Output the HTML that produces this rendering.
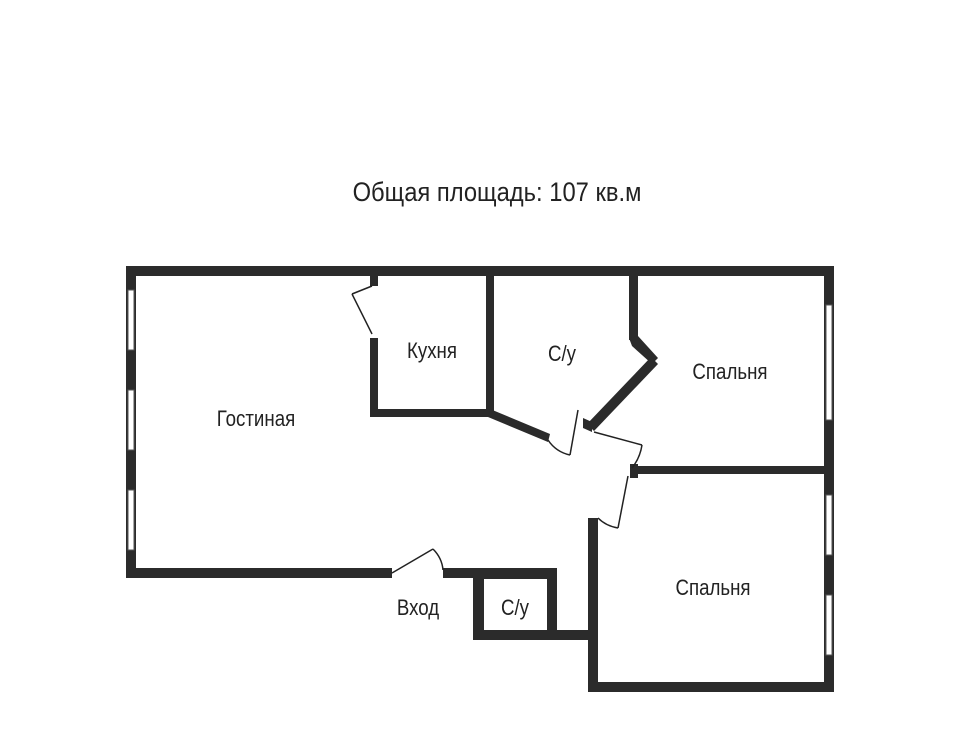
<!DOCTYPE html>
<html><head><meta charset="utf-8"><style>
body{margin:0;background:#fff;width:960px;height:730px;overflow:hidden}
svg{display:block}
text{font-family:"Liberation Sans",sans-serif;fill:#222}
</style></head><body>
<svg width="960" height="730" viewBox="0 0 960 730">
<text x="497" y="201" font-size="27" text-anchor="middle" transform="translate(497 0) scale(0.88 1) translate(-497 0)">Общая площадь: 107 кв.м</text>
<g fill="#2b2b2b">
<rect x="126" y="266" width="708" height="10"/>
<rect x="126" y="266" width="10" height="312"/>
<rect x="126" y="568" width="266" height="10"/>
<rect x="443" y="568" width="32" height="10"/>
<rect x="824" y="266" width="10" height="426"/>
<rect x="588" y="682" width="246" height="10"/>
<rect x="588" y="518" width="10" height="174"/>
<rect x="473" y="568" width="84" height="11"/>
<rect x="473" y="568" width="11" height="72"/>
<rect x="547" y="568" width="10" height="72"/>
<rect x="473" y="630" width="125" height="10"/>
<rect x="370" y="276" width="8" height="10"/>
<rect x="370" y="338" width="8" height="79"/>
<rect x="370" y="409" width="124" height="8"/>
<rect x="486" y="276" width="8" height="141"/>
<polygon points="490,409 550,434 548,442 488,417"/>
<rect x="629" y="276" width="9" height="64"/>
<polygon points="629,338 638,336 658,358 652,364 632,346"/>
<polygon points="651,357 658,364 594,431 587,424"/>
<polygon points="583,418 592,422 592,432 583,428"/>
<rect x="634" y="466" width="200" height="8"/>
<rect x="630" y="464" width="8" height="14"/>
</g>
<g fill="#fff" stroke="#555" stroke-width="1">
<rect x="128" y="290" width="6" height="60"/>
<rect x="128" y="390" width="6" height="60"/>
<rect x="128" y="490" width="6" height="60"/>
<rect x="826" y="305" width="6" height="115"/>
<rect x="826" y="495" width="6" height="60"/>
<rect x="826" y="595" width="6" height="60"/>
</g>
<g fill="none" stroke="#222" stroke-width="1.5">
<line x1="372" y1="286" x2="352" y2="294"/><line x1="352" y1="294" x2="372" y2="334"/>
<line x1="392" y1="573" x2="433" y2="549"/><path d="M433,549 Q442,558 443,570"/>
<line x1="578" y1="410" x2="570" y2="455"/><path d="M548,440 Q556,452 570,455"/>
<line x1="594" y1="432" x2="642" y2="445"/><path d="M642,445 Q640,458 632,468"/>
<line x1="628" y1="476" x2="618" y2="528"/><path d="M598,518 Q606,526 618,528"/>
</g>
<g font-size="22">
<text x="256" y="426" text-anchor="middle" transform="translate(256 0) scale(0.85 1) translate(-256 0)">Гостиная</text>
<text x="432" y="358" text-anchor="middle" transform="translate(432 0) scale(0.85 1) translate(-432 0)">Кухня</text>
<text x="562" y="361" text-anchor="middle" transform="translate(562 0) scale(0.85 1) translate(-562 0)">С/у</text>
<text x="730" y="379" text-anchor="middle" transform="translate(730 0) scale(0.85 1) translate(-730 0)">Спальня</text>
<text x="713" y="595" text-anchor="middle" transform="translate(713 0) scale(0.85 1) translate(-713 0)">Спальня</text>
<text x="418" y="615" text-anchor="middle" transform="translate(418 0) scale(0.85 1) translate(-418 0)">Вход</text>
<text x="515" y="615" text-anchor="middle" transform="translate(515 0) scale(0.85 1) translate(-515 0)">С/у</text>
</g>
</svg>
</body></html>
